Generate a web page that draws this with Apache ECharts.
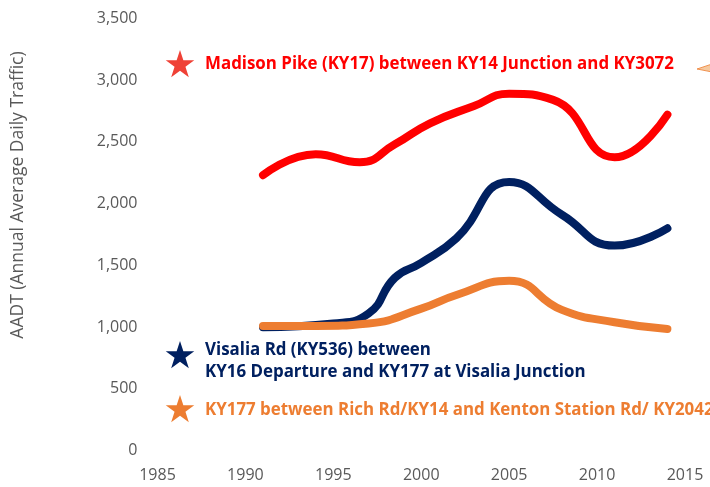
<!DOCTYPE html>
<html><head><meta charset="utf-8">
<script src="https://cdn.jsdelivr.net/npm/echarts@6/dist/echarts.min.js"></script>
<style>html,body{margin:0;padding:0;background:#fff}#c{width:710px;height:487px}</style>
</head><body><div id="c"></div>
<script>
const xTicks = [1985, 1990, 1995, 2000, 2005, 2010, 2015];
const yTicks = [0, 500, 1000, 1500, 2000, 2500, 3000, 3500];
const yAxisTitle = 'AADT (Annual Average Daily Traffic)';

const madisonName = 'Madison Pike (KY17) between KY14 Junction and KY3072';
const madisonYears  = [1991, 1994, 1996.5, 1998.5, 2000.5, 2003, 2005, 2007.5, 2011, 2014];
const madisonValues = [2230, 2400, 2335, 2480, 2650, 2790, 2890, 2840, 2375, 2720];

const visaliaName = 'Visalia Rd (KY536) between\nKY16 Departure and KY177 at Visalia Junction';
const visaliaYears  = [1991, 1995, 1997, 1998.5, 2000, 2002, 2005, 2008, 2011, 2014];
const visaliaValues = [1000, 1030, 1110, 1400, 1520, 1720, 2175, 1910, 1660, 1800];

const ky177Name = 'KY177 between Rich Rd/KY14 and Kenton Station Rd/ KY2042';
const ky177Years  = [1991, 1994, 1997, 2000, 2002, 2005, 2008, 2011, 2014];
const ky177Values = [1010, 1010, 1030, 1150, 1260, 1375, 1140, 1040, 985];

const RED = '#ff0000', NAVY = '#002060', ORANGE = '#ed7d31';

function pairs(xs, ys) { return xs.map((x, i) => [x, ys[i]]); }
function starPoints(cx, cy, R) {
  const r = R * 0.382, pts = [];
  for (let i = 0; i < 10; i++) {
    const a = -Math.PI / 2 + i * Math.PI / 5, rr = i % 2 ? r : R;
    pts.push([cx + rr * Math.cos(a), cy + rr * Math.sin(a)]);
  }
  return pts;
}
const FONT = '"Open Sans", "Noto Sans", sans-serif';
function label(x, y, text, color) {
  return { type: 'text', left: x, top: y, style: { text: text, fill: color, font: 'bold 16.9px ' + FONT, lineHeight: 22 } };
}
function star(cx, cy, color) {
  return { type: 'polygon', shape: { points: starPoints(cx, cy, 15) }, style: { fill: color } };
}

const chart = echarts.init(document.getElementById('c'), null, { renderer: 'canvas' });
const lineBase = { type: 'line', smooth: true, showSymbol: false, symbol: 'none', silent: true };
chart.setOption({
  animation: false,
  textStyle: { fontFamily: FONT },
  grid: { left: 157.5, right: 25, top: 18.3, bottom: 36.3, containLabel: false },
  xAxis: {
    type: 'value', min: xTicks[0], max: xTicks[xTicks.length - 1], interval: 5,
    axisLine: { show: false }, axisTick: { show: false }, splitLine: { show: false },
    axisLabel: { color: '#595959', fontSize: 16, margin: 17, formatter: v => String(v) }
  },
  yAxis: {
    type: 'value', min: yTicks[0], max: yTicks[yTicks.length - 1], interval: 500,
    axisLine: { show: false }, axisTick: { show: false }, splitLine: { show: false },
    axisLabel: { color: '#595959', fontSize: 16, margin: 20, formatter: v => v.toLocaleString('en-US') }
  },
  series: [
    Object.assign({}, lineBase, { name: visaliaName, data: pairs(visaliaYears, visaliaValues), lineStyle: { color: NAVY, width: 8, cap: 'round' } }),
    Object.assign({}, lineBase, { name: ky177Name, data: pairs(ky177Years, ky177Values), lineStyle: { color: ORANGE, width: 8, cap: 'round' } }),
    Object.assign({}, lineBase, { name: madisonName, data: pairs(madisonYears, madisonValues), lineStyle: { color: RED, width: 8, cap: 'round' } })
  ],
  graphic: [
    { type: 'text', x: 18, y: 195, rotation: Math.PI / 2,
      style: { text: yAxisTitle, fill: '#595959', font: '17.5px ' + FONT, align: 'center', verticalAlign: 'middle' } },
    star(180, 65, '#ef4136'), label(205, 53, madisonName, RED),
    star(180, 356, NAVY), label(205, 339, visaliaName, NAVY),
    star(180, 410, ORANGE), label(205, 399, ky177Name, ORANGE),
    { type: 'polygon', shape: { points: [[697, 69], [712, 64], [712, 72]] }, style: { fill: '#f6c99f', stroke: ORANGE, lineWidth: 0.8 } }
  ]
});
</script></body></html>
